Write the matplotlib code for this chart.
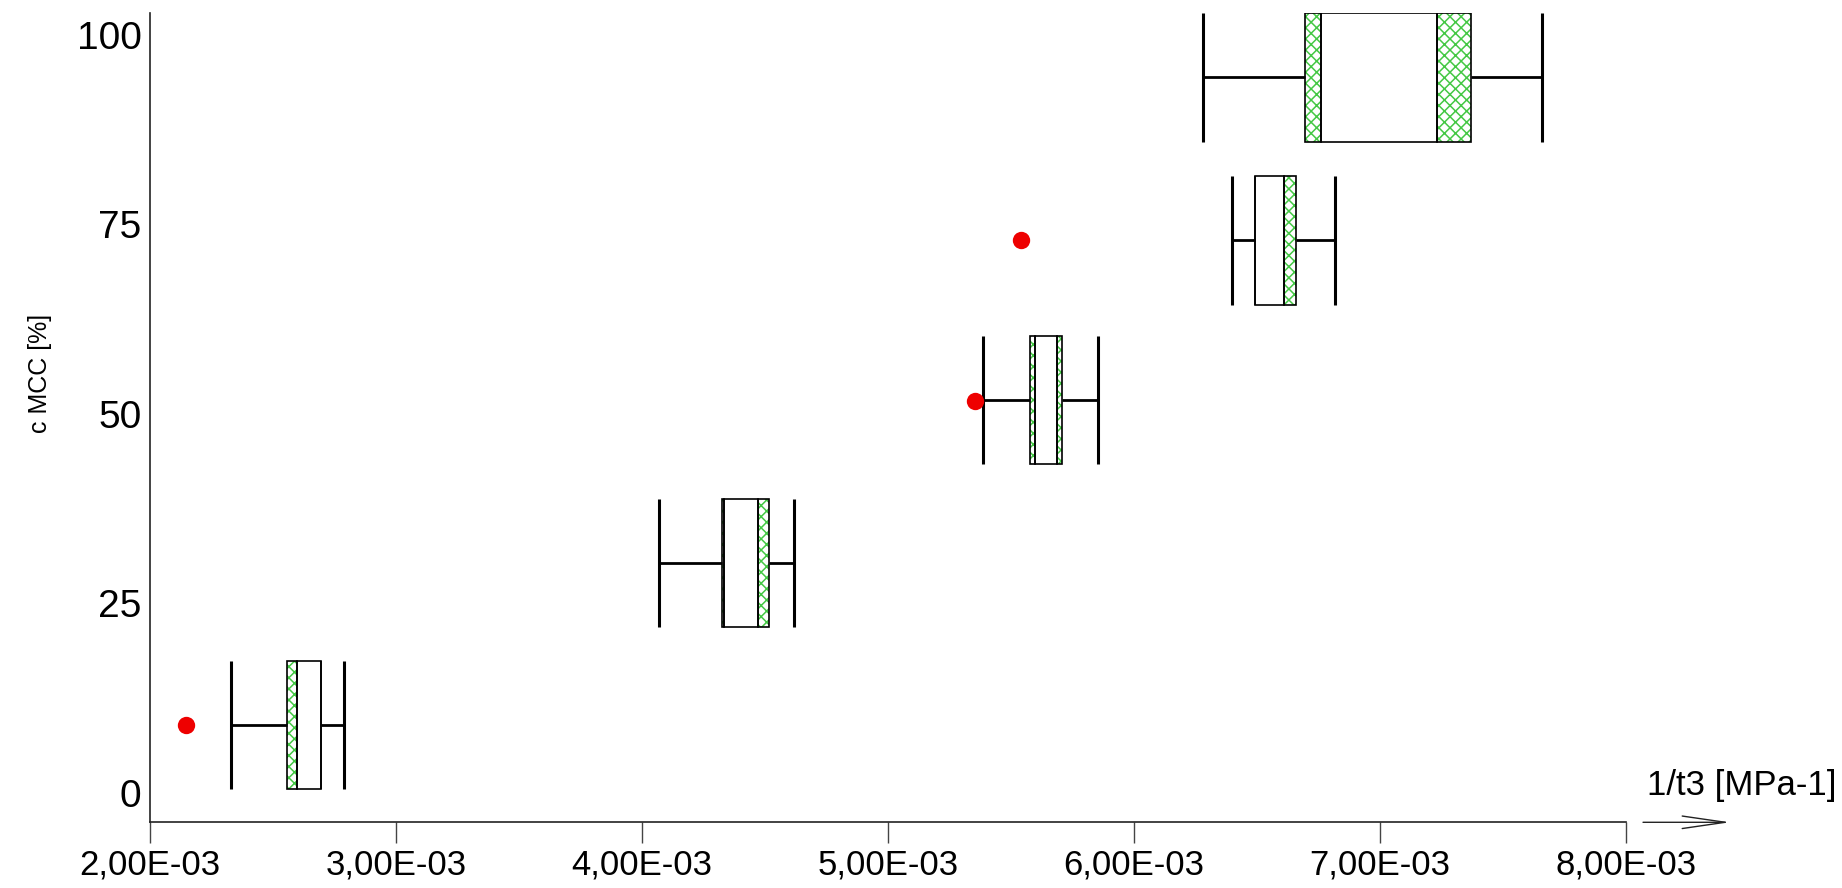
import matplotlib
matplotlib.use('Agg')
import matplotlib.pyplot as plt
import numpy as np

plt.rcParams['font.family'] = ['Liberation Sans', 'DejaVu Sans']
plt.rcParams['hatch.linewidth'] = 1.1

# box data (x in 1/MPa, y in % MCC)
y_pos = [8.9, 30.3, 51.8, 72.9, 94.4]
whisk_lo = [0.002330, 0.004072, 0.005389, 0.006398, 0.006281]
q1 = [0.002557, 0.004325, 0.005578, 0.006493, 0.006698]
inner_lo = [0.002600, 0.004336, 0.005599, 0.006493, 0.006760]
inner_hi = [0.002698, 0.004472, 0.005687, 0.006612, 0.007232]
q3 = [0.002698, 0.004519, 0.005709, 0.006659, 0.007370]
whisk_hi = [0.002790, 0.004619, 0.005856, 0.006818, 0.007661]

outlier_x = [0.002146, 0.005355, 0.005541]
outlier_y = [8.9, 51.7, 72.9]

xticks = [0.002, 0.003, 0.004, 0.005, 0.006, 0.007, 0.008]
xtick_labels = ['2,00E-03', '3,00E-03', '4,00E-03', '5,00E-03',
                '6,00E-03', '7,00E-03', '8,00E-03']
yticks = [0, 25, 50, 75, 100]
ytick_labels = ['0', '25', '50', '75', '100']

box_h = 17
green = '#45c845'

fig = plt.figure(figsize=(18.42, 8.88), dpi=100)
ax = fig.add_axes([0.0813, 0.074, 0.8013, 0.9114])

y = np.array(y_pos)
lo, a, b, hi = map(np.array, (q1, inner_lo, inner_hi, q3))

# hatched segments (hatch colour follows edgecolor)
for left, right in ((lo, a), (b, hi)):
    ax.barh(y, right - left, left=left, height=box_h, color='white',
            edgecolor=green, hatch='xxx', linewidth=0, zorder=2)
# outlines of all three segments
for left, right in ((lo, a), (a, b), (b, hi)):
    ax.barh(y, right - left, left=left, height=box_h, fill=False,
            edgecolor='black', linewidth=1.2, zorder=3)

# whiskers
ax.hlines(y, whisk_lo, q1, color='black', lw=2, zorder=3)
ax.hlines(y, q3, whisk_hi, color='black', lw=2, zorder=3)
ax.vlines(whisk_lo, y - box_h / 2, y + box_h / 2, color='black', lw=2.2, zorder=3)
ax.vlines(whisk_hi, y - box_h / 2, y + box_h / 2, color='black', lw=2.2, zorder=3)

ax.plot(outlier_x, outlier_y, 'o', color='#ee0000', ms=12.5, zorder=4,
        markeredgewidth=0)

ax.set_xlim(0.002, 0.008)
ax.set_ylim(-3.93, 102.9)
ax.set_xticks(xticks)
ax.set_xticklabels(xtick_labels, fontsize=25)
ax.set_yticks(yticks)
ax.set_yticklabels(ytick_labels, fontsize=28)
ax.tick_params(axis='x', direction='out', length=15, width=1, color='#444444', pad=4)
ax.tick_params(axis='y', length=0, pad=6)

for s in ('top', 'right'):
    ax.spines[s].set_visible(False)
for s in ('left', 'bottom'):
    ax.spines[s].set_color('#222222')
    ax.spines[s].set_linewidth(1.2)

ax.set_ylabel('c MCC [%]', fontsize=18)
ax.yaxis.set_label_coords(-0.066, 0.555)

ax.annotate('', xy=(1.0707, 0), xytext=(1.0117, 0), xycoords='axes fraction',
            arrowprops=dict(arrowstyle='->,head_length=3.1,head_width=0.45',
                            lw=1, color='#222222', shrinkA=0, shrinkB=0))
ax.text(1.0142, 0.045, '1/t3 [MPa-1]', transform=ax.transAxes,
        fontsize=25, ha='left', va='center')

fig.savefig('out.png', dpi=100)
